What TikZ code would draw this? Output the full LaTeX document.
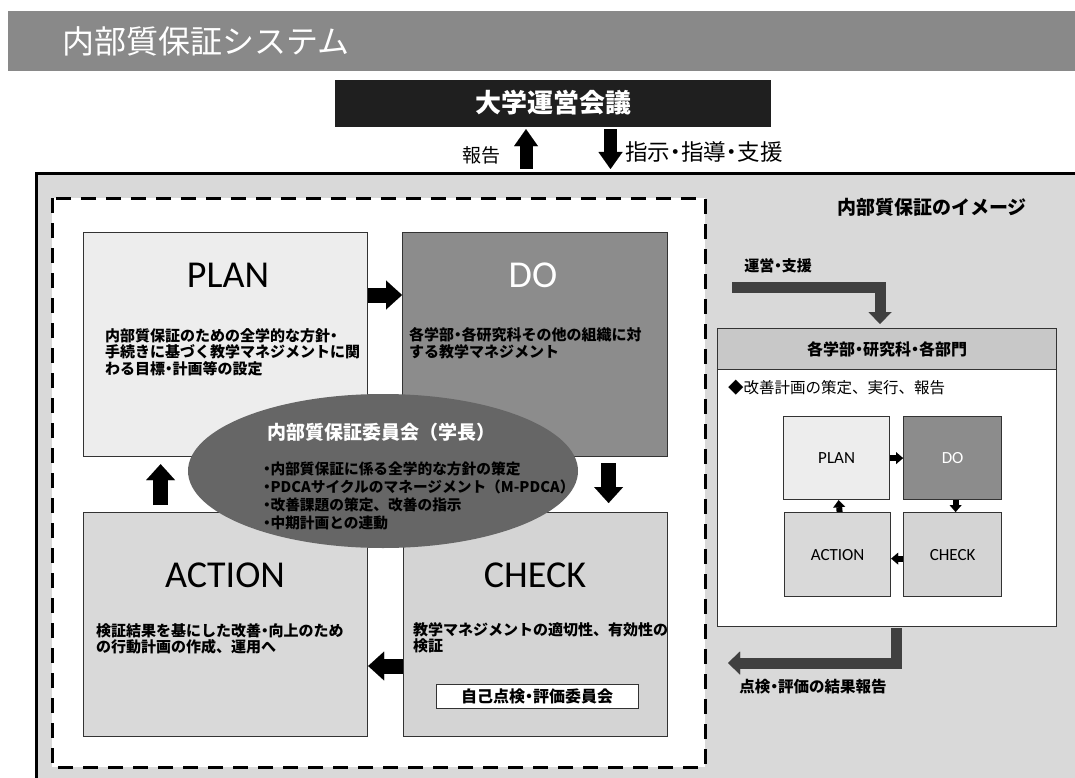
\documentclass[tikz,border=0pt]{standalone}
\usepackage{fontspec}
\usetikzlibrary{arrows.meta,shapes.geometric}
\newfontfamily\jp{Noto Sans CJK JP}
\newfontfamily\jpp{Noto Sans CJK JP}[RawFeature=+palt]
\newfontfamily\lat{Carlito}
\newcommand\nkg{{\jpp ・}}
\definecolor{titlegray}{HTML}{898989}
\definecolor{framegray}{HTML}{D9D9D9}
\definecolor{plangray}{HTML}{EDEDED}
\definecolor{dogray}{HTML}{8C8C8C}
\definecolor{actgray}{HTML}{D9D9D9}
\definecolor{chkgray}{HTML}{D4D4D4}
\definecolor{ellgray}{HTML}{666666}
\definecolor{hdrgray}{HTML}{C8C8C8}
\definecolor{bendgray}{HTML}{404040}
\definecolor{edgegray}{HTML}{333333}
\definecolor{unibox}{HTML}{1F1F1F}
\begin{document}
\begin{tikzpicture}[x=1pt,y=-1pt,
  box/.style={draw=edgegray, line width=1.2pt, anchor=north west, inner sep=0pt},
  bigtitle/.style={font=\lat\fontsize{38}{40}\selectfont, inner sep=0pt},
  minititle/.style={font=\lat\fontsize{17}{19}\selectfont, inner sep=0pt},
  body/.style={font=\jp\bfseries\fontsize{15}{16.5}\selectfont, align=left, anchor=west, inner sep=0pt},
  blk/.style={line width=15pt, -{Triangle[width=29pt,length=16pt,line width=0.01pt]}},
  tarr/.style={line width=13pt, -{Triangle[width=24pt,length=17pt,line width=0.01pt]}},
  mblk/.style={line width=6pt, -{Triangle[width=12pt,length=7pt,line width=0.01pt]}},
  bentarrow/.style={color=bendgray, line width=11pt, line join=miter, -{Triangle[width=23pt,length=12pt,line width=0.01pt]}},
  lbl/.style={font=\jp\bfseries\fontsize{#1}{#1}\selectfont, inner sep=0pt},
  lblr/.style={font=\jp\fontsize{#1}{#1}\selectfont, inner sep=0pt}
]
\useasboundingbox (0,0) rectangle (1075,778);
\clip (0,0) rectangle (1075,778);
\fill[white] (0,0) rectangle (1075,778);

% title bar
\fill[titlegray] (8,11) rectangle (1075,71);
\node[lblr=32, text=white, anchor=west] (title) at (62,41) {内部質保証システム};

% university council
\node[fill=unibox, minimum width=436pt, minimum height=47pt, inner sep=0pt] (uni) at (553,103.5) {};
\node[lbl=26, text=white] (unitxt) at (553,103) {大学運営会議};
\coordinate (repfoot) at (526,169);
\coordinate (dirfoot) at (610.5,169);
\draw[tarr] (repfoot) -- ([xshift=-27pt,yshift=-2pt]uni.south);
\draw[tarr] ([xshift=57.5pt,yshift=-2pt]uni.south) -- (dirfoot);
\node[lblr=19, anchor=east] (reptxt) at (501,155) {報告};
\node[lblr=22.5, anchor=west] (dirtxt) at (625,152) {指示\nkg 指導\nkg 支援};

% outer frame
\draw[line width=3pt, fill=framegray] (36,174) rectangle (1110,810);
% dashed region
\draw[line width=3pt, dash pattern=on 15pt off 10pt, fill=white] (52,198) rectangle (705,767);

% PDCA boxes
\node[box, fill=plangray, minimum width=284pt, minimum height=224pt] (plan) at (83,232) {};
\node[box, fill=dogray, minimum width=265pt, minimum height=224pt] (do) at (402,232) {};
\node[box, fill=actgray, minimum width=284pt, minimum height=224pt] (act) at (83,512) {};
\node[box, fill=chkgray, minimum width=264pt, minimum height=224pt] (chk) at (403,512) {};

\node[bigtitle] (plant) at (228,275) {PLAN};
\node[bigtitle, text=white] (dot) at (533,275) {DO};
\node[bigtitle] (actt) at (225,575) {ACTION};
\node[bigtitle] (chkt) at (535,575) {CHECK};

\node[body] (planb) at (105,352) {内部質保証のための全学的な方針\nkg\\手続きに基づく教学マネジメントに関\\わる目標\nkg 計画等の設定};
\node[body] (dob) at (409,343) {各学部\nkg 各研究科その他の組織に対\\する教学マネジメント};
\node[body] (actb) at (96,639) {検証結果を基にした改善\nkg 向上のため\\の行動計画の作成、運用へ};
\node[body] (chkb) at (413,638) {教学マネジメントの適切性、有効性の\\検証};
\node[draw=edgegray, line width=1pt, fill=white, minimum width=202pt, minimum height=24pt, inner sep=0pt, font=\jp\bfseries\fontsize{16}{16}\selectfont] (self) at (537,696) {自己点検\nkg 評価委員会};

% block arrows
\draw[blk] ([yshift=-63pt]plan.north east) -- ([yshift=-63pt]do.north west);
\draw[blk] ([xshift=73.5pt,yshift=-6pt]do.south) -- ([xshift=73pt,yshift=9pt]chk.north);
\draw[blk] ([yshift=-154pt]chk.north west) -- ([yshift=-154pt]act.north east);
\draw[blk] ([xshift=-65pt,yshift=7pt]act.north) -- ([xshift=-65pt,yshift=-7pt]plan.south);

% committee ellipse
\node[ellipse, fill=ellgray, minimum width=390pt, minimum height=154pt, inner sep=0pt] (ell) at (383,471) {};
\node[lbl=19, text=white] (ellt) at (381,432) {内部質保証委員会（学長）};
\node[font=\jp\bfseries\fontsize{14.7}{18}\selectfont, align=left, anchor=west, inner sep=0pt] (ellb) at (263,496)
  {\nkg 内部質保証に係る全学的な方針の策定\\\nkg PDCAサイクルのマネージメント（M-PDCA）\\\nkg 改善課題の策定、改善の指示\\\nkg 中期計画との連動};

% right panel
\node[lbl=19] (img) at (932,207) {内部質保証のイメージ};
\node[lbl=15] (suptxt) at (778,266) {運営\nkg 支援};
\node[box, fill=white, minimum width=339pt, minimum height=298pt] (dept) at (717,328) {};
\node[box, fill=hdrgray, minimum width=339pt, minimum height=41pt, font=\jp\bfseries\fontsize{16}{16}\selectfont] (hdr) at (717,328) {各学部\nkg 研究科\nkg 各部門};
\node[lblr=15.5, anchor=west] (plantxt) at (728,388) {◆改善計画の策定、実行、報告};

\node[box, fill=plangray, minimum width=106pt, minimum height=83pt] (mplan) at (783,416) {};
\node[box, fill=dogray, minimum width=98pt, minimum height=83pt] (mdo) at (903,416) {};
\node[box, fill=actgray, minimum width=106pt, minimum height=84pt] (mact) at (784,512) {};
\node[box, fill=chkgray, minimum width=98pt, minimum height=84pt] (mchk) at (903,512) {};
\node[minititle] at (mplan.center) {PLAN};
\node[minititle, text=white] at (mdo.center) {DO};
\node[minititle] at (mact.center) {ACTION};
\node[minititle] at (mchk.center) {CHECK};
\draw[mblk] (mplan.east) -- (mdo.west);
\draw[mblk] ([xshift=3pt]mdo.south) -- ([xshift=3pt]mchk.north);
\draw[mblk] ([yshift=-4pt]mchk.west) -- ([yshift=-4pt]mact.east);
\draw[mblk] ([xshift=2pt]mact.north) -- ([xshift=2pt]mplan.south);

% bent arrows
\coordinate (supstart) at (732,287.5);
\coordinate (supend) at (880,324);
\draw[bentarrow] (supstart) -| (supend);
\coordinate (repstart) at (896.5,628);
\coordinate (repend) at (728,663);
\draw[bentarrow] (repstart) |- (repend);
\node[lbl=15.5] (reslt) at (813,687) {点検\nkg 評価の結果報告};
\end{tikzpicture}
\end{document}
